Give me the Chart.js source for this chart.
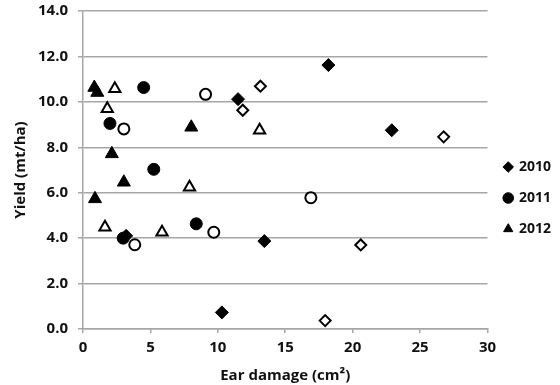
<!DOCTYPE html>
<html>
<head>
<meta charset="utf-8">
<script src="https://cdn.jsdelivr.net/npm/chart.js@4.4.1/dist/chart.umd.min.js"></script>
<style>
html,body{margin:0;padding:0;background:#fff;}
#wrap{width:560px;height:385px;}
</style>
</head>
<body>
<div id="wrap"><canvas id="c" width="560" height="385"></canvas></div>
<script>
// Data: [ear damage (cm²), yield (mt/ha)]
const years = ['2010', '2011', '2012'];
const d2010Filled = [[18.2,11.62],[11.5,10.12],[22.9,8.75],[10.3,0.73],[13.45,3.87],[3.2,4.1]];
const d2010Open   = [[13.16,10.69],[11.85,9.63],[26.75,8.46],[20.6,3.70],[17.96,0.37]];
const d2011Filled = [[4.5,10.63],[2.0,9.05],[5.25,7.03],[8.4,4.63],[2.98,4.0]];
const d2011Open   = [[9.09,10.33],[3.03,8.81],[3.84,3.71],[9.7,4.26],[16.9,5.78]];
const d2012Filled = [[0.84,10.63],[1.06,10.41],[2.14,7.71],[3.03,6.46],[8.03,8.88],[0.89,5.73]];
const d2012Open   = [[2.36,10.58],[1.8,9.70],[7.9,6.24],[13.1,8.75],[1.63,4.48],[5.86,4.26]];
const xTicks = [0,5,10,15,20,25,30];
const yTicks = [0,2,4,6,8,10,12,14];

const toPts = arr => arr.map(p => ({x: p[0], y: p[1]}));
const FONT = "'Open Sans', 'DejaVu Sans', sans-serif";
const GRID = '#a6a6a6';
const TXT = '#111';

function filled(label, data, style, r) {
  return {label, data: toPts(data), pointStyle: style, pointRadius: r, pointHoverRadius: r,
    backgroundColor: '#000', borderColor: '#000', pointBorderWidth: 1, order: 1, showLine: false};
}
function open(data, style, r) {
  return {label: '', data: toPts(data), pointStyle: style, pointRadius: r, pointHoverRadius: r,
    backgroundColor: '#fff', borderColor: '#000', pointBorderWidth: 2, order: 0, showLine: false};
}

new Chart(document.getElementById('c'), {
  type: 'scatter',
  data: {
    datasets: [
      filled(years[0], d2010Filled, 'rectRot', 6.5),
      filled(years[1], d2011Filled, 'circle', 6),
      filled(years[2], d2012Filled, 'triangle', 7.5),
      open(d2010Open, 'rectRot', 5.5),
      open(d2011Open, 'circle', 5.5),
      open(d2012Open, 'triangle', 6.5)
    ]
  },
  options: {
    responsive: false,
    animation: false,
    layout: {padding: {top: 11, left: 12, right: -1, bottom: 0}},
    plugins: {
      tooltip: {enabled: false},
      legend: {
        position: 'right',
        align: 'center',
        labels: {
          usePointStyle: true,
          boxWidth: 7.5,
          boxHeight: 7.5,
          padding: 17,
          color: TXT,
          font: {family: FONT, size: 14, weight: 'bold'},
          filter: item => item.text !== ''
        }
      }
    },
    scales: {
      x: {
        type: 'linear', min: 0, max: 30,
        afterBuildTicks: s => { s.ticks = xTicks.map(v => ({value: v})); },
        ticks: {color: TXT, font: {family: FONT, size: 15, weight: 'bold'}, padding: 6},
        grid: {drawOnChartArea: false, drawTicks: true, tickLength: 4, color: GRID, lineWidth: 1.5},
        border: {display: true, color: GRID, width: 1.5},
        title: {display: true, text: 'Ear damage (cm²)', color: TXT,
          font: {family: FONT, size: 15, weight: 'bold'}, padding: {top: 0, bottom: 0}},
        afterFit: s => { s.height = 56; }
      },
      y: {
        type: 'linear', min: 0, max: 14,
        afterBuildTicks: s => { s.ticks = yTicks.map(v => ({value: v})); },
        ticks: {color: TXT, font: {family: FONT, size: 15, weight: 'bold'}, padding: 10,
          callback: v => Number(v).toFixed(1)},
        grid: {color: GRID, lineWidth: 1.5, drawTicks: true, tickLength: 5},
        border: {display: true, color: GRID, width: 1.5},
        title: {display: true, text: 'Yield (mt/ha)', color: TXT,
          font: {family: FONT, size: 15, weight: 'bold'}, padding: {top: 0, bottom: 0}},
        afterFit: s => { s.width = 71; s.paddingTop = 0; s.paddingBottom = 0; }
      }
    }
  }
});
</script>
</body>
</html>
